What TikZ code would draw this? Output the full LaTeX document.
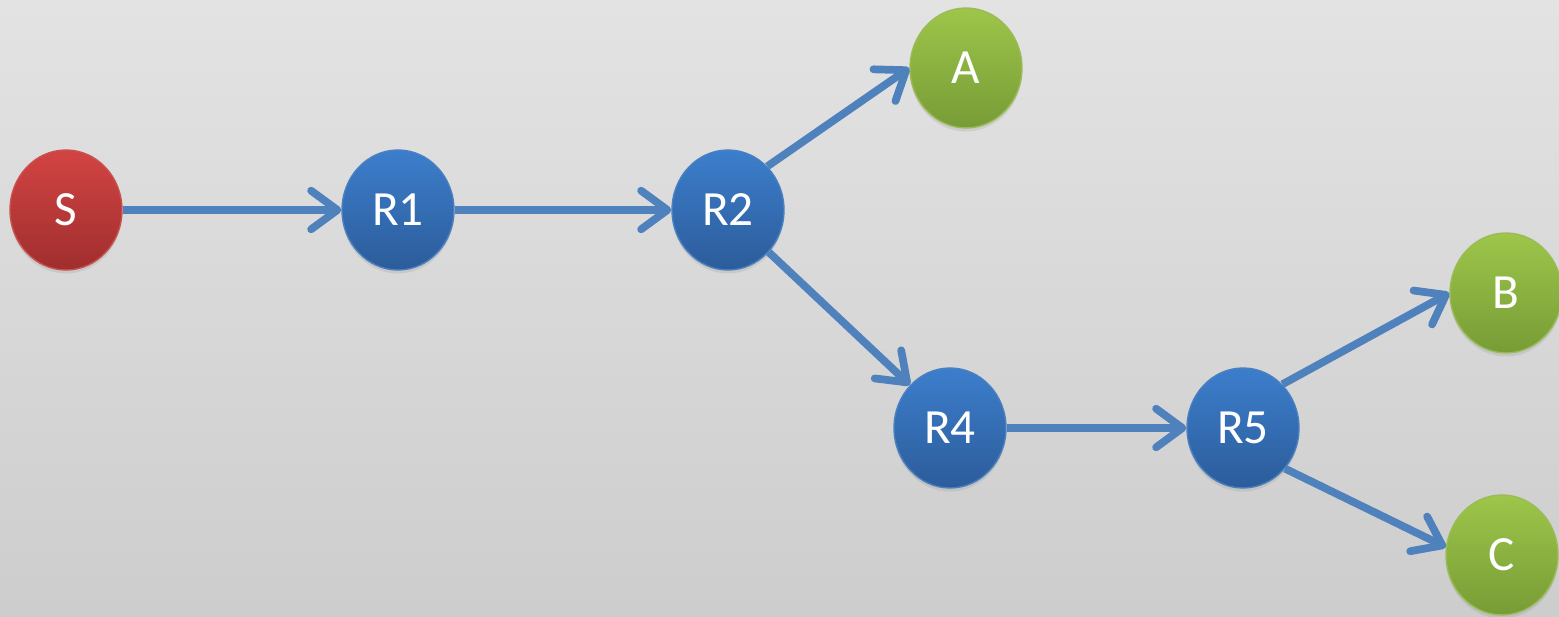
\documentclass[tikz,border=0pt]{standalone}
\usepackage{fontspec}
\setmainfont{Carlito}
\usetikzlibrary{shapes.geometric,arrows.meta,shadows}

\definecolor{bgtop}{HTML}{E3E3E3}
\definecolor{bgbot}{HTML}{CDCDCD}
\definecolor{srctop}{HTML}{D24443}
\definecolor{srcbot}{HTML}{A02E2E}
\definecolor{srcline}{HTML}{C8504D}
\definecolor{rtop}{HTML}{3C7ECC}
\definecolor{rbot}{HTML}{2C5C9A}
\definecolor{rline}{HTML}{4A7FC0}
\definecolor{dsttop}{HTML}{9DC64A}
\definecolor{dstbot}{HTML}{779C36}
\definecolor{dstline}{HTML}{9BBB59}
\definecolor{linkcol}{HTML}{4F81BD}

\tikzstyle{hop} = [ellipse, minimum width=2.24cm, minimum height=2.4cm, inner sep=0pt, text=white, font=\fontsize{28}{32}\selectfont, line width=0.8pt, drop shadow={opacity=0.18, shadow xshift=0pt, shadow yshift=-2pt}]
\tikzstyle{source} = [hop, draw=srcline, top color=srctop, bottom color=srcbot]
\tikzstyle{router} = [hop, draw=rline, top color=rtop, bottom color=rbot]
\tikzstyle{dest} = [hop, draw=dstline, top color=dsttop, bottom color=dstbot]
\tikzstyle{link} = [line width=4.4pt, draw=linkcol, -{Straight Barb[length=15pt, width=22pt, round]}]

\begin{document}
\begin{tikzpicture}[x=0.02cm, y=-0.02cm]

\shade [top color=bgtop, bottom color=bgbot] (0,0) rectangle (1559,616);
\useasboundingbox (0,0) rectangle (1559,616);

\node (s) [source] at (66,210) {S};
\node (r1) [router] at (398,210) {R1};
\node (r2) [router] at (728,210) {R2};
\node (a) [dest] at (966,68) {A};
\node (r4) [router] at (950,428) {R4};
\node (r5) [router] at (1243,428) {R5};
\node (b) [dest] at (1506,293) {B};
\node (c) [dest] at (1502,555) {C};

\draw [link] (s.east) -- (r1.west);
\draw [link] (r1.east) -- (r2.west);
\draw [link] (r2.48) -- (a.west);
\draw [link] (r2.-46) -- (r4.133);
\draw [link] (r4.east) -- (r5.west);
\draw [link] (r5.48) -- (b.west);
\draw [link] (r5.-44) -- (c.172);
\end{tikzpicture}
\end{document}
